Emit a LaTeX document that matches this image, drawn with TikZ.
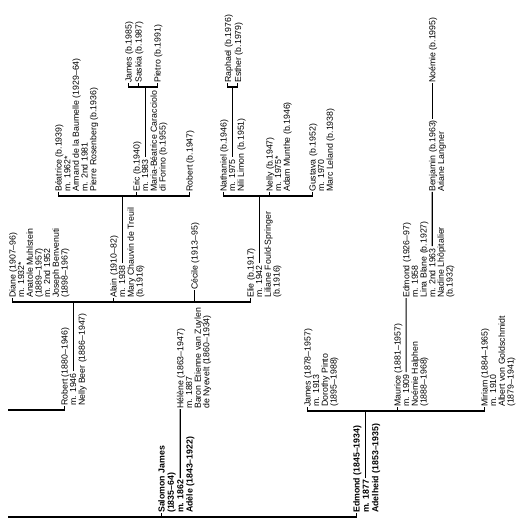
\documentclass[tikz,border=0pt]{standalone}
\usepackage{fontspec}
\setmainfont{Liberation Sans}
\usetikzlibrary{calc}

\tikzset{
    person/.style={rotate=90, anchor=north west, inner sep=0pt, align=left,
        font=\fontsize{8.8}{8.7}\selectfont},
    head/.style={person, font=\fontsize{8.8}{9.4}\selectfont\bfseries},
    link/.style={line width=1.1bp},
}
\def\lh{8.7}

\begin{document}
\begin{tikzpicture}[x=1bp, y=-1bp]
            \useasboundingbox (0,0) rectangle (530,528);

            \node[head] (salomon) at (158,513) {Salomon James\\(1835--64)\\m. 1862\\Adèle (1843--1922)};
            \node[head] (edmond) at (353,513) {Edmond (1845--1934)\\m. 1877\\Adelheid (1853--1935)};
            \coordinate (in1) at (8,517);
            \coordinate (in2) at (8,410);

            \node[person] (robert) at (61,406) {Robert (1880--1946)\\m. 1946\\Nelly Beer (1886--1947)};
            \node[person] (helene) at ($(salomon.north west)+(2*9.4,-104)$) {Hélène (1863--1947)\\m. 1887\\Baron Etienne van Zuylen\\de Nyevelt (1860--1934)};
            \node[person] (james) at (304,407) {James (1878--1957)\\m. 1913\\Dorothy Pinto\\(1895--1988)};
            \node[person] (maurice) at (394,407) {Maurice (1881--1957)\\m. 1909\\Noémie Halphen\\(1888--1968)};
            \node[person] (miriam) at (481,407) {Miriam (1884--1965)\\m. 1910\\Albert von Goldschmidt\\(1879--1941)};

            \node[person] (diane) at (9,298) {Diane (1907--96)\\m. 1932*\\Anatole Muhlstein\\(1889--1957)\\m. 2nd 1952\\Joseph Benvenuti\\(1898--1967)};
            \node[person] (alain) at (110,298) {Alain (1910--82)\\m. 1938\\Mary Chauvin de Treuil\\(b.1916)};
            \node[person] (cecile) at (191,290) {Cécile (1913--95)};
            \node[person] (elie) at (247,298) {Elie (b.1917)\\m. 1942\\Liliane Fould-Springer\\(b.1916)};
            \node[person] (edmondb) at ($(maurice.north west)+(\lh,-109)$) {Edmond (1926--97)\\m. 1958\\Lina Blane (b.1927)\\m. 2nd 1963\\Nadine Lhôpitalier\\(b.1932)};

            \node[person] (beatrice) at (55,192) {Béatrice (b.1939)\\m. 1962*\\Armand de la Baumelle (1929--64)\\m. 2nd 1981\\Pierre Rosenberg (b.1936)};
            \node[person] (eric) at (133,192) {Eric (b.1940)\\m. 1983\\Maria-Béatrice Caracciolo\\di Forino (b.1955)};
            \node[person] (robertb) at (186,192) {Robert (b.1947)};
            \node[person] (nathaniel) at (220,192) {Nathaniel (b.1946)\\m. 1975\\Nili Limon (b.1951)};
            \node[person] (nelly) at (266,192) {Nelly (b.1947)\\m. 1975*\\Adam Munthe (b.1946)};
            \node[person] (gustava) at (309,192) {Gustava (b.1952)\\m. 1970\\Marc Leland (b.1938)};
            \node[person] (benjamin) at ($(edmondb.north west)+(3*\lh,-106)$) {Benjamin (b.1963)\\Ariane Langner};

            \node[person] (jamesb) at (125,83) {James (b.1985)};
            \node[person] (saskia) at (135,83) {Saskia (b.1987)};
            \node[person] (pietro) at (154,83) {Pietro (b.1991)};
            \node[person] (raphael) at (224.5,83) {Raphael (b.1976)};
            \node[person] (esther) at (234.5,83) {Esther (b.1979)};
            \node[person] (noemie) at ($(benjamin.north west)+(0,-109)$) {Noémie (b.1995)};

            % first generation
            \draw[link] (in1) -| ($(edmond.north west)+(3.4,0)$);
            \draw[link] ($(salomon.north west)+(3.4,4)$) -- ($(salomon.north west)+(3.4,0)$);
            \draw[link] ($(salomon.north west)+(3.4+2*9.4,-35)$) -- ($(helene.north west)+(3.4,0)$);
            \draw[link] ($(edmond.north west)+(3.4+9.4,-35)$) -- ($(edmond.north west)+(3.4+9.4,-102)$);

            % second generation
            \draw[link] (in2) -| ($(robert.north west)+(3.4,0)$);
            \draw[link] ($(james.north west)+(3.4,0)$) |- ($(miriam.north west)+(3.4,4)$) -- ($(miriam.north west)+(3.4,0)$);
            \draw[link] ($(maurice.north west)+(3.4,4)$) -- ($(maurice.north west)+(3.4,0)$);
            \draw[link] ($(robert.north west)+(3.4+\lh,-35)$) -- ($(robert.north west)+(3.4+\lh,-104)$);
            \draw[link] ($(maurice.north west)+(3.4+\lh,-35)$) -- ($(edmondb.north west)+(3.4,0)$);

            % third generation
            \draw[link] ($(diane.north west)+(3.4,0)$) |- ($(elie.north west)+(3.4,4)$) -- ($(elie.north west)+(3.4,0)$);
            \draw[link] ($(alain.north west)+(3.4,4)$) -- ($(alain.north west)+(3.4,0)$);
            \draw[link] ($(cecile.north west)+(3.4,12)$) -- ($(cecile.north west)+(3.4,0)$);
            \draw[link] ($(alain.north west)+(3.4+\lh,-35)$) -- ($(alain.north west)+(3.4+\lh,-102)$);
            \draw[link] ($(elie.north west)+(3.4+\lh,-35)$) -- ($(elie.north west)+(3.4+\lh,-102)$);
            \draw[link] ($(edmondb.north west)+(3.4+3*\lh,-52)$) -- ($(benjamin.north west)+(3.4,0)$);

            % fourth generation
            \draw[link] ($(beatrice.north west)+(3.4,0)$) |- ($(robertb.north west)+(3.4,4)$) -- ($(robertb.north west)+(3.4,0)$);
            \draw[link] ($(eric.north west)+(3.4,4)$) -- ($(eric.north west)+(3.4,0)$);
            \draw[link] ($(nathaniel.north west)+(3.4,0)$) |- ($(gustava.north west)+(3.4,4)$) -- ($(gustava.north west)+(3.4,0)$);
            \draw[link] ($(nelly.north west)+(3.4,4)$) -- ($(nelly.north west)+(3.4,0)$);
            \draw[link] ($(eric.north west)+(3.4+\lh,-35)$) -- ($(eric.north west)+(3.4+\lh,-105)$);
            \draw[link] ($(nathaniel.north west)+(3.4+\lh,-35)$) -- ($(nathaniel.north west)+(3.4+\lh,-105)$);
            \draw[link] ($(benjamin.north west)+(3.4,-73)$) -- ($(noemie.north west)+(3.4,0)$);

            % fifth generation
            \draw[link] ($(jamesb.north west)+(3.4,0)$) |- ($(pietro.north west)+(3.4,4)$) -- ($(pietro.north west)+(3.4,0)$);
            \draw[link] ($(saskia.north west)+(3.4,4)$) -- ($(saskia.north west)+(3.4,0)$);
            \draw[link] ($(raphael.north west)+(3.4,0)$) |- ($(esther.north west)+(3.4,4)$) -- ($(esther.north west)+(3.4,0)$);
        \end{tikzpicture}
\end{document}
